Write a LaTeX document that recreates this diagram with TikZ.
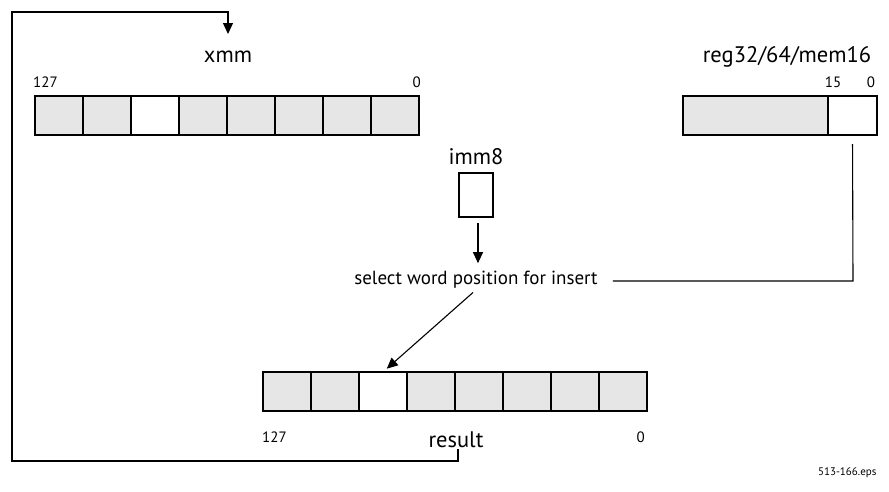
\documentclass[tikz,border=0pt]{standalone}
\usepackage{fontspec}
\setmainfont{PT Sans}
\usetikzlibrary{arrows.meta}
\definecolor{cellgray}{HTML}{E6E6E6}
\tikzset{
  cell/.style={draw, line width=1.5pt, fill=cellgray, minimum width=48pt, minimum height=39pt, inner sep=0pt, outer sep=0pt},
  hot/.style={fill=white},
  title/.style={font=\fontsize{22.5}{24}\selectfont, inner sep=1pt},
  bitno/.style={font=\fontsize{15}{17}\selectfont, inner sep=0pt},
  desc/.style={font=\fontsize{19}{21}\selectfont, inner sep=1pt},
  wire/.style={line width=1.1pt},
  arr/.style={wire, -{Triangle[length=11pt,width=10pt]}}
}
\begin{document}
\begin{tikzpicture}[x=1pt,y=-1pt]
\useasboundingbox (0,0) rectangle (889,491);
% xmm register
\foreach \i in {0,...,7}{
  \ifnum\i=2
    \node[cell,hot] (x\i) at (59+48*\i,115.5) {};
  \else
    \node[cell] (x\i) at (59+48*\i,115.5) {};
  \fi
}
\node[title] (xmm) at (228,57) {xmm};
\node[bitno, anchor=west] (xhi) at (33,82) {127};
\node[bitno, anchor=east] (xlo) at (421,82) {0};
% reg register
\node[cell, minimum width=145pt] (g0) at (755.5,115.5) {};
\node[cell, hot, minimum width=49pt] (g1) at (852.5,115.5) {};
\node[title] (reg) at (787,57) {reg32/64/mem16};
\node[bitno] (g15) at (833,82) {15};
\node[bitno] (g00) at (871,82) {0};
% imm8
\node[title] (imm) at (476,157) {imm8};
\node[draw, line width=1.5pt, minimum width=34pt, minimum height=44pt, inner sep=0pt] (ib) at (476,195) {};
% select text
\node[desc] (sel) at (476,280) {select word position for insert};
% result register
\foreach \i in {0,...,7}{
  \ifnum\i=2
    \node[cell,hot] (r\i) at (287+48*\i,391.5) {};
  \else
    \node[cell] (r\i) at (287+48*\i,391.5) {};
  \fi
}
\node[bitno, anchor=west] (rhi) at (262,437) {127};
\node[title] (res) at (456,440) {result};
\node[bitno, anchor=east] (rlo) at (645,437) {0};
\node[font=\fontsize{11}{12}\selectfont, anchor=east] (eps) at (880,473) {513-166.eps};
% connectors
\coordinate (c1) at (458,461);
\coordinate (c2) at (12,461);
\coordinate (c3) at (12,12);
\coordinate (c4) at (228,12);
\draw[arr] ([xshift=2pt]res.south) -- (c1) -- (c2) -- (c3) -- (c4) -- (228,34);
\coordinate (c5) at (853,281);
\draw[wire, shorten <=9pt, shorten >=14pt] (g1.south) -- (c5) -- (sel.east |- c5);
\draw[arr, shorten <=5pt, shorten >=7pt] (ib.south -| 478,0) -- (sel.north -| 478,0);
\draw[arr, shorten <=4pt, shorten >=5pt] (sel.south) -- (r2.north);
\end{tikzpicture}
\end{document}
